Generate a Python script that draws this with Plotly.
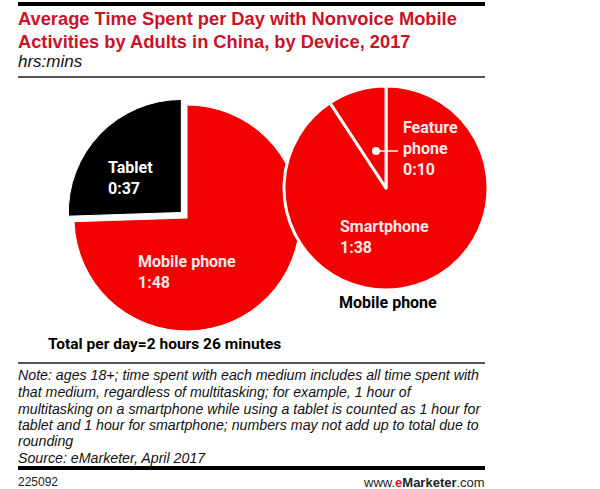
import plotly.graph_objects as go

W, H = 600, 489

# ---- data (minutes per day) ----
device_labels = ["Mobile phone", "Tablet"]
device_minutes = [108, 37]
phone_labels = ["Smartphone", "Feature phone"]
phone_minutes = [98, 10]
total_text = "Total per day=2 hours 26 minutes"

title_lines = ["Average Time Spent per Day with Nonvoice Mobile",
               "Activities by Adults in China, by Device, 2017"]
subtitle = "hrs:mins"
note_lines = [
    "Note: ages 18+; time spent with each medium includes all time spent with",
    "that medium, regardless of multitasking; for example, 1 hour of",
    "multitasking on a smartphone while using a tablet is counted as 1 hour for",
    "tablet and 1 hour for smartphone; numbers may not add up to total due to",
    "rounding",
    "Source: eMarketer, April 2017",
]

RED = "#f40000"
TITLE_RED = "#cc1128"
BOLD_FONT = "Roboto, Liberation Sans, Arial, sans-serif"
TITLE_FONT = "Liberation Sans, Arial, sans-serif"
TEXT_FONT = "Liberation Sans, Arial, sans-serif"


def px(x):
    return x / W


def py(y):
    return 1 - y / H


def hm(m):
    return f"{m // 60}:{m % 60:02d}"


fig = go.Figure()

# left pie: by device
pull = 0.07
cx, cy, r = 187, 218, 113
half = r * (1 + pull)
fig.add_trace(go.Pie(
    labels=device_labels, values=device_minutes, sort=False,
    direction="clockwise", rotation=0,
    marker=dict(colors=[RED, "#000000"], line=dict(color="white", width=1)),
    pull=[0, pull], textinfo="none", showlegend=False,
    domain=dict(x=[px(cx - half), px(cx + half)], y=[py(cy + half), py(cy - half)]),
))

# right pie: mobile phone split
cx2, cy2, r2 = 386, 188, 102
fig.add_trace(go.Pie(
    labels=phone_labels, values=phone_minutes, sort=False,
    direction="clockwise", rotation=0,
    marker=dict(colors=[RED, RED], line=dict(color="white", width=3)),
    textinfo="none", showlegend=False,
    domain=dict(x=[px(cx2 - r2), px(cx2 + r2)], y=[py(cy2 + r2), py(cy2 - r2)]),
))

ann = []


def add(text, x, y, size, color="black", family=BOLD_FONT, xanchor="left", yanchor="middle", align="left"):
    ann.append(dict(text=text, x=px(x), y=py(y), xref="paper", yref="paper",
                    showarrow=False, xanchor=xanchor, yanchor=yanchor, align=align,
                    font=dict(size=size, color=color, family=family)))


# title
add(f"<b>{title_lines[0]}</b>", 16, 19, 18.3, TITLE_RED, TITLE_FONT)
add(f"<b>{title_lines[1]}</b>", 16, 41, 18.3, TITLE_RED, TITLE_FONT)
add(f"<i>{subtitle}</i>", 16, 62, 17, "#111", TEXT_FONT)

# slice labels
add(f"<b>{device_labels[1]}<br>{hm(device_minutes[1])}</b>", 106, 178, 16, "white")
add(f"<b>{device_labels[0]}<br>{hm(device_minutes[0])}</b>", 136, 272, 16, "#fdeaea")
add(f"<b>{phone_labels[1].replace(' ', '<br>')}<br>{hm(phone_minutes[1])}</b>", 401, 149, 16, "#fdeaea")
add(f"<b>{phone_labels[0]}<br>{hm(phone_minutes[0])}</b>", 338, 237, 16, "#fdeaea")

add(f"<b>{device_labels[0]}</b>", 388, 302, 16, "black", xanchor="center")
add(f"<b>{total_text}</b>", 46, 344, 15.5, "black")

# notes
note_y = [375, 392, 409, 425, 441, 458]
for t, yy in zip(note_lines, note_y):
    add(f"<i>{t}</i>", 16, yy, 14.2, "#111", TEXT_FONT)

add("225092", 16, 482, 12, "#222", TEXT_FONT)
add("www.<b><span style='color:#e8102a'>e</span>Marketer</b>.com", 487, 482, 13, "#222",
    TEXT_FONT, xanchor="right")

shapes = [
    dict(type="line", xref="paper", yref="paper", x0=px(18), x1=px(485), y0=py(4), y1=py(4),
         line=dict(color="black", width=4)),
    dict(type="line", xref="paper", yref="paper", x0=px(18), x1=px(485), y0=py(77), y1=py(77),
         line=dict(color="#555", width=2)),
    dict(type="line", xref="paper", yref="paper", x0=px(18), x1=px(485), y0=py(363), y1=py(363),
         line=dict(color="#555", width=2)),
    dict(type="line", xref="paper", yref="paper", x0=px(18), x1=px(485), y0=py(468), y1=py(468),
         line=dict(color="black", width=4)),
    # leader for Feature phone
    dict(type="line", xref="paper", yref="paper", x0=px(376), x1=px(398), y0=py(151), y1=py(151),
         line=dict(color="white", width=1.5)),
    dict(type="circle", xref="paper", yref="paper", x0=px(372), x1=px(380), y0=py(155), y1=py(147),
         fillcolor="white", line=dict(color="white", width=0)),
]

fig.update_layout(
    width=W, height=H, margin=dict(l=0, r=0, t=0, b=0),
    paper_bgcolor="white", plot_bgcolor="white",
    annotations=ann, shapes=shapes, showlegend=False,
)

fig.write_html("out.html")
